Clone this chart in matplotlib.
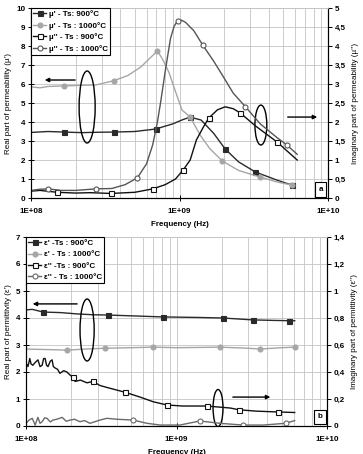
import numpy as np
import matplotlib.pyplot as plt
from matplotlib.patches import Ellipse
from matplotlib.ticker import FuncFormatter, NullFormatter

plt.rcParams['font.family'] = ['Liberation Sans', 'DejaVu Sans']
plt.rcParams['font.weight'] = 'bold'
plt.rcParams['font.size'] = 5.8

# ---- panel a : permeability ----
mu1_900_f = [1e8, 1.3e8, 1.67e8, 2.2e8, 2.8e8, 3.6e8, 5e8, 6.9e8, 9e8, 1.05e9, 1.18e9, 1.4e9, 1.7e9, 2.03e9, 2.5e9, 3.24e9, 4.5e9, 5.7e9]
mu1_900 = [3.45, 3.5, 3.47, 3.44, 3.46, 3.47, 3.5, 3.63, 3.9, 4.12, 4.26, 4.1, 3.4, 2.58, 1.9, 1.37, 0.95, 0.68]
mu1_900_mk = [1.67e8, 3.6e8, 6.9e8, 1.18e9, 2.03e9, 3.24e9, 5.7e9]

mu1_1000_f = [1e8, 1.15e8, 1.3e8, 1.67e8, 2.17e8, 2.73e8, 3.6e8, 4.5e8, 5.5e8, 6.4e8, 7.1e8, 7.7e8, 8.5e8, 9.3e8, 1.04e9, 1.18e9, 1.38e9, 1.6e9, 1.94e9, 2.5e9, 3.5e9, 4.5e9, 5.7e9]
mu1_1000 = [5.85, 5.8, 5.87, 5.9, 5.93, 5.95, 6.17, 6.45, 6.9, 7.4, 7.74, 7.3, 6.6, 5.7, 4.63, 4.26, 3.3, 2.6, 1.95, 1.45, 1.1, 0.85, 0.68]
mu1_1000_mk = [1.67e8, 3.6e8, 7.1e8, 1.18e9, 1.94e9, 3.5e9, 5.7e9]

mu2_900_f = [1e8, 1.15e8, 1.5e8, 2e8, 2.5e8, 3.44e8, 5e8, 6.6e8, 8e8, 9.4e8, 1.06e9, 1.18e9, 1.3e9, 1.45e9, 1.57e9, 1.8e9, 2.03e9, 2.3e9, 2.56e9, 3.24e9, 4.55e9, 6.2e9]
mu2_900 = [0.18, 0.2, 0.15, 0.13, 0.14, 0.12, 0.15, 0.24, 0.35, 0.5, 0.74, 1.0, 1.53, 1.87, 2.1, 2.32, 2.4, 2.35, 2.24, 1.9, 1.47, 1.0]
mu2_900_mk = [1.5e8, 3.44e8, 6.6e8, 1.06e9, 1.57e9, 2.56e9, 4.55e9]

mu2_1000_f = [1e8, 1.15e8, 1.3e8, 1.6e8, 2e8, 2.73e8, 3.5e8, 4.3e8, 5.2e8, 6e8, 6.6e8, 7.1e8, 7.45e8, 8.06e8, 8.7e8, 9.2e8, 9.7e8, 1.03e9, 1.1e9, 1.25e9, 1.43e9, 1.7e9, 1.98e9, 2.3e9, 2.78e9, 3.5e9, 4.5e9, 5.3e9, 6.2e9]
mu2_1000 = [0.2, 0.23, 0.24, 0.2, 0.2, 0.24, 0.25, 0.35, 0.53, 0.9, 1.4, 2.0, 2.5, 3.4, 4.2, 4.52, 4.66, 4.68, 4.62, 4.4, 4.03, 3.6, 3.18, 2.76, 2.4, 1.95, 1.6, 1.39, 1.15]
mu2_1000_mk = [1.3e8, 2.73e8, 5.2e8, 9.7e8, 1.43e9, 2.78e9, 5.3e9]

# ---- panel b : permittivity ----
eps1_900_f = [1e8, 1.1e8, 1.3e8, 1.7e8, 2.2e8, 2.8e8, 3.5e8, 5e8, 8.1e8, 1.4e9, 2.03e9, 3.2e9, 4.5e9, 5.6e9, 6.1e9]
eps1_900 = [4.3, 4.32, 4.22, 4.2, 4.15, 4.12, 4.11, 4.08, 4.04, 4.02, 4.0, 3.93, 3.91, 3.9, 3.9]
eps1_900_mk = [1.3e8, 3.5e8, 8.1e8, 2.03e9, 3.2e9, 5.6e9]

eps1_1000_f = [1e8, 1.4e8, 1.87e8, 2.5e8, 3.35e8, 5e8, 6.98e8, 1e9, 1.94e9, 3e9, 3.6e9, 5e9, 6.1e9]
eps1_1000 = [2.85, 2.83, 2.81, 2.85, 2.88, 2.9, 2.92, 2.9, 2.92, 2.88, 2.85, 2.9, 2.92]
eps1_1000_mk = [1.87e8, 3.35e8, 6.98e8, 1.94e9, 3.6e9, 6.1e9]

eps2_900_f = [1e8, 1.03e8, 1.06e8, 1.08e8, 1.11e8, 1.15e8, 1.2e8, 1.24e8, 1.28e8, 1.31e8, 1.34e8, 1.37e8, 1.4e8, 1.45e8, 1.49e8, 1.52e8, 1.56e8, 1.62e8, 1.68e8, 1.78e8, 1.87e8, 1.95e8, 2.05e8, 2.12e8, 2.3e8, 2.54e8, 2.79e8, 3.1e8, 3.6e8, 4.55e8, 5.7e8, 6.98e8, 8.6e8, 1.09e9, 1.59e9, 2.28e9, 2.6e9, 3.4e9, 4.7e9, 6.1e9]
eps2_900 = [0.467, 0.44, 0.5, 0.46, 0.45, 0.47, 0.49, 0.44, 0.45, 0.5, 0.5, 0.45, 0.44, 0.48, 0.49, 0.44, 0.43, 0.42, 0.39, 0.41, 0.4, 0.38, 0.36, 0.33, 0.34, 0.32, 0.33, 0.3, 0.28, 0.25, 0.215, 0.18, 0.156, 0.148, 0.148, 0.133, 0.12, 0.11, 0.104, 0.1]
eps2_900_mk = [2.05e8, 2.79e8, 4.55e8, 8.6e8, 1.59e9, 2.6e9, 4.7e9]

eps2_1000_f = [1e8, 1.05e8, 1.1e8, 1.15e8, 1.2e8, 1.24e8, 1.28e8, 1.33e8, 1.38e8, 1.45e8, 1.51e8, 1.6e8, 1.74e8, 1.85e8, 1.96e8, 2.1e8, 2.28e8, 2.45e8, 2.66e8, 3.1e8, 3.45e8, 4.02e8, 5.14e8, 6.36e8, 7.8e8, 1.05e9, 1.43e9, 1.94e9, 2.76e9, 3.76e9, 5.3e9, 6.1e9]
eps2_1000 = [0.02, 0.045, 0.057, 0.007, 0.064, 0.02, 0.032, 0.06, 0.057, 0.03, 0.044, 0.05, 0.064, 0.035, 0.044, 0.05, 0.032, 0.04, 0.02, 0.044, 0.057, 0.05, 0.044, 0.02, 0.007, 0.007, 0.037, 0.02, 0.007, 0.007, 0.02, 0.04]
eps2_1000_mk = [5.14e8, 1.43e9, 2.76e9, 5.3e9]

comma = FuncFormatter(lambda v, p: ('%g' % round(v, 2)).replace('.', ','))


def style_axes(ax, ax2, ymax_l, ymax_r, step_r):
    ax.set_xscale('log')
    ax.set_xlim(1e8, 1e10)
    ax.set_ylim(0, ymax_l)
    ax2.set_ylim(0, ymax_r)
    ax.set_yticks(np.arange(0, ymax_l + 1, 1))
    ax2.set_yticks(np.arange(0, ymax_r + step_r / 2, step_r))
    ax2.yaxis.set_major_formatter(comma)
    ax.set_xticks([1e8, 1e9, 1e10], labels=['1E+08', '1E+09', '1E+10'])
    ax.xaxis.set_minor_formatter(NullFormatter())
    ax.grid(True, which='both', axis='x', color='#c4c4c4', lw=0.6)
    ax.grid(True, which='major', axis='y', color='#c4c4c4', lw=0.6)
    ax.tick_params(axis='y', which='major', direction='inout', length=4, width=0.7, pad=2)
    ax.tick_params(axis='x', which='major', direction='inout', length=4, width=0.7, pad=5)
    ax.tick_params(axis='x', which='minor', length=0)
    ax2.tick_params(axis='y', direction='out', length=3, width=0.7, pad=2)
    for a in (ax, ax2):
        a.spines['top'].set_color('#c4c4c4')
        a.spines['top'].set_linewidth(0.6)
        for s in ('left', 'right', 'bottom'):
            a.spines[s].set_linewidth(0.8)


def curve(a, f, v, mk, color, marker, mfc, label):
    sel = np.isin(f, mk)
    return a.plot(f, v, color=color, lw=1.0, marker=marker, markersize=3.6,
                  markerfacecolor=mfc, markeredgecolor=color, markeredgewidth=0.8,
                  markevery=list(sel), label=label)[0]


fig = plt.figure(figsize=(3.63, 4.54), dpi=100)

# panel a
ax = fig.add_axes([31 / 363, 1 - 198 / 454, 297 / 363, 190 / 454])
ax2 = ax.twinx()
style_axes(ax, ax2, 10, 5, 0.5)
h1 = curve(ax, mu1_900_f, mu1_900, mu1_900_mk, '#2a2a2a', 's', '#2a2a2a', "µ' - Ts: 900°C")
h2 = curve(ax, mu1_1000_f, mu1_1000, mu1_1000_mk, '#a6a6a6', 'o', '#a6a6a6', "µ' - Ts : 1000°C")
h3 = curve(ax2, mu2_900_f, mu2_900, mu2_900_mk, '#111111', 's', 'white', "µ'' - Ts : 900°C")
h4 = curve(ax2, mu2_1000_f, mu2_1000, mu2_1000_mk, '#555555', 'o', 'white', "µ'' - Ts : 1000°C")
ax.set_ylabel("Real part of permeability (µ')", labelpad=3)
ax2.set_ylabel("Imaginary part of permeability (µ'')", labelpad=4)
leg = ax2.legend(handles=[h1, h2, h3, h4], loc='upper left', borderaxespad=0, fancybox=False,
                 edgecolor='black', framealpha=1, handlelength=1.6, handletextpad=0.3,
                 labelspacing=0.45, borderpad=0.3)
leg.get_frame().set_linewidth(0.8)
ax2.add_patch(Ellipse((0.189, 0.479), 0.054, 0.379, transform=ax2.transAxes, fill=False, lw=1.0, ec='black'))
ax2.add_patch(Ellipse((0.774, 0.384), 0.040, 0.21, transform=ax2.transAxes, fill=False, lw=1.0, ec='black'))
ax2.annotate('', xy=(0.037, 0.621), xytext=(0.158, 0.621), xycoords='axes fraction',
             arrowprops=dict(arrowstyle='-|>', color='black', lw=1.0, mutation_scale=6))
ax2.annotate('', xy=(0.973, 0.426), xytext=(0.855, 0.426), xycoords='axes fraction',
             arrowprops=dict(arrowstyle='-|>', color='black', lw=1.0, mutation_scale=6))
ax2.text(0.975, 0.045, 'a', transform=ax2.transAxes, ha='center', va='center',
         bbox=dict(boxstyle='square,pad=0.45', fc='white', ec='black', lw=0.8))
fig.text(179.5 / 363, 1 - 224 / 454, 'Frequency (Hz)', ha='center', va='center')

# panel b
bx = fig.add_axes([26 / 363, 1 - 426 / 454, 301 / 363, 189 / 454])
bx2 = bx.twinx()
style_axes(bx, bx2, 7, 1.4, 0.2)
g1 = curve(bx, eps1_900_f, eps1_900, eps1_900_mk, '#2a2a2a', 's', '#2a2a2a', "ε' -Ts : 900°C")
g2 = curve(bx, eps1_1000_f, eps1_1000, eps1_1000_mk, '#a6a6a6', 'o', '#a6a6a6', "ε' - Ts : 1000°C")
g3 = curve(bx2, eps2_900_f, eps2_900, eps2_900_mk, '#111111', 's', 'white', "ε'' -Ts : 900°C")
g4 = curve(bx2, eps2_1000_f, eps2_1000, eps2_1000_mk, '#6a6a6a', 'o', 'white', "ε'' - Ts : 1000°C")
bx.set_ylabel("Real part of permittivity (ε')", labelpad=3)
bx2.set_ylabel("Imaginary part of permittivity (ε'')", labelpad=4)
leg = bx2.legend(handles=[g1, g2, g3, g4], loc='upper left', borderaxespad=0, fancybox=False,
                 edgecolor='black', framealpha=1, handlelength=1.6, handletextpad=0.3,
                 labelspacing=0.45, borderpad=0.3)
leg.get_frame().set_linewidth(0.8)
bx2.add_patch(Ellipse((0.203, 0.508), 0.047, 0.328, transform=bx2.transAxes, fill=False, lw=1.0, ec='black'))
bx2.add_patch(Ellipse((0.638, 0.095), 0.033, 0.196, transform=bx2.transAxes, fill=False, lw=1.0, ec='black'))
bx2.annotate('', xy=(0.013, 0.646), xytext=(0.179, 0.646), xycoords='axes fraction',
             arrowprops=dict(arrowstyle='-|>', color='black', lw=1.0, mutation_scale=6))
bx2.annotate('', xy=(0.821, 0.153), xytext=(0.678, 0.153), xycoords='axes fraction',
             arrowprops=dict(arrowstyle='-|>', color='black', lw=1.0, mutation_scale=6))
bx2.text(0.977, 0.048, 'b', transform=bx2.transAxes, ha='center', va='center',
         bbox=dict(boxstyle='square,pad=0.45', fc='white', ec='black', lw=0.8))
fig.text(176.5 / 363, 1 - 452 / 454, 'Frequency (Hz)', ha='center', va='center')

fig.savefig('out.png', dpi=100)
